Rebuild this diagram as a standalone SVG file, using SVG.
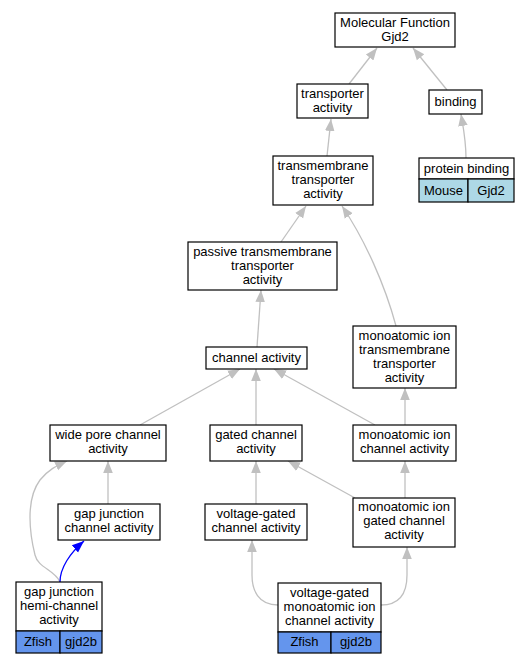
<svg xmlns="http://www.w3.org/2000/svg" width="531" height="664" viewBox="0 0 531 664">
<defs>
<style>
rect{fill:#fff;stroke:#000;stroke-width:1.2}
rect.lb{fill:#add8e6}
rect.cb{fill:#6495ed}
text{font-family:"Liberation Sans",Arial,sans-serif;font-size:13px;text-anchor:middle;fill:#000}
.e path{fill:none;stroke:#c0c0c0;stroke-width:1.3}
.e path.blue{stroke:#0000ff}
</style>
<marker id="ag" markerUnits="userSpaceOnUse" markerWidth="12" markerHeight="12" refX="10" refY="4" orient="auto" viewBox="0 0 10 8">
<path d="M0,0 L10,4 L0,8 Z" fill="#c0c0c0"/>
</marker>
<marker id="ab" markerUnits="userSpaceOnUse" markerWidth="12" markerHeight="12" refX="10" refY="4" orient="auto" viewBox="0 0 10 8">
<path d="M0,0 L10,4 L0,8 Z" fill="#0000ff"/>
</marker>
</defs>
<rect x="0" y="0" width="531" height="664" style="fill:#fff;stroke:none"/>
<g class="e" id="edges">
<path d="M349,84 L377,48" marker-end="url(#ag)"/>
<path d="M447,90 L413,48" marker-end="url(#ag)"/>
<path d="M466,158 C466,140 463,126 461,114" marker-end="url(#ag)"/>
<path d="M327,156 L331,119" marker-end="url(#ag)"/>
<path d="M281,242 L306,206" marker-end="url(#ag)"/>
<path d="M396,326 C385,285 365,240 342,206" marker-end="url(#ag)"/>
<path d="M257,347 L261,290" marker-end="url(#ag)"/>
<path d="M140,425 L240,369" marker-end="url(#ag)"/>
<path d="M256,425 L256,369" marker-end="url(#ag)"/>
<path d="M375,425 L274,369" marker-end="url(#ag)"/>
<path d="M405,425 L405,388" marker-end="url(#ag)"/>
<path d="M108,504 L108,461" marker-end="url(#ag)"/>
<path d="M60,582 C55,570 38,568 35,555 C30,535 25,500 40,480 C48,470 56,466 67,461" marker-end="url(#ag)"/>
<path class="blue" d="M60,582 C60,568 70,553 84,541" marker-end="url(#ab)"/>
<path d="M256,504 L256,461" marker-end="url(#ag)"/>
<path d="M355,498 L288,461" marker-end="url(#ag)"/>
<path d="M405,498 L405,461" marker-end="url(#ag)"/>
<path d="M278,605 C258,605 252,590 252,575 L252,540" marker-end="url(#ag)"/>
<path d="M381,605 C402,605 407,590 407,575 L407,547" marker-end="url(#ag)"/>
</g>
<g id="mf">
<rect x="335" y="13" width="120" height="34"/>
<text x="395" y="27">Molecular Function</text>
<text x="395" y="41">Gjd2</text>
</g>
<g id="transporter">
<rect x="297" y="84" width="71" height="34"/>
<text x="332.5" y="98">transporter</text>
<text x="332.5" y="112">activity</text>
</g>
<g id="binding">
<rect x="429" y="90" width="53" height="24"/>
<text x="455.5" y="106">binding</text>
</g>
<g id="proteinbinding">
<rect x="419" y="158" width="95" height="21"/>
<text x="466.5" y="173">protein binding</text>
<rect class="lb" x="419" y="179" width="49" height="23"/>
<text x="443.5" y="195">Mouse</text>
<rect class="lb" x="468" y="179" width="46" height="23"/>
<text x="491" y="195">Gjd2</text>
</g>
<g id="tta">
<rect x="273" y="156" width="100" height="49"/>
<text x="323" y="170">transmembrane</text>
<text x="323" y="184">transporter</text>
<text x="323" y="198">activity</text>
</g>
<g id="passive">
<rect x="188" y="242" width="149" height="48"/>
<text x="262.5" y="256">passive transmembrane</text>
<text x="262.5" y="270">transporter</text>
<text x="262.5" y="284">activity</text>
</g>
<g id="channel">
<rect x="206" y="347" width="101" height="22"/>
<text x="256.5" y="362">channel activity</text>
</g>
<g id="mitta">
<rect x="353" y="326" width="103" height="62"/>
<text x="404.5" y="340">monoatomic ion</text>
<text x="404.5" y="354">transmembrane</text>
<text x="404.5" y="368">transporter</text>
<text x="404.5" y="382">activity</text>
</g>
<g id="widepore">
<rect x="50" y="425" width="116" height="36"/>
<text x="108" y="439">wide pore channel</text>
<text x="108" y="453">activity</text>
</g>
<g id="gated">
<rect x="210" y="425" width="92" height="36"/>
<text x="256" y="439">gated channel</text>
<text x="256" y="453">activity</text>
</g>
<g id="mic">
<rect x="353" y="425" width="103" height="36"/>
<text x="404.5" y="439">monoatomic ion</text>
<text x="404.5" y="453">channel activity</text>
</g>
<g id="gapjunction">
<rect x="58" y="504" width="102" height="36"/>
<text x="109" y="518">gap junction</text>
<text x="109" y="532">channel activity</text>
</g>
<g id="vgc">
<rect x="205" y="504" width="102" height="36"/>
<text x="256" y="518">voltage-gated</text>
<text x="256" y="532">channel activity</text>
</g>
<g id="migc">
<rect x="353" y="498" width="102" height="49"/>
<text x="404" y="511">monoatomic ion</text>
<text x="404" y="525">gated channel</text>
<text x="404" y="539">activity</text>
</g>
<g id="hemi">
<rect x="16" y="582" width="86" height="49"/>
<text x="59" y="596">gap junction</text>
<text x="59" y="610">hemi-channel</text>
<text x="59" y="624">activity</text>
<rect class="cb" x="16" y="631" width="44" height="22"/>
<text x="38" y="646">Zfish</text>
<rect class="cb" x="60" y="631" width="42" height="22"/>
<text x="81" y="646">gjd2b</text>
</g>
<g id="vgmic">
<rect x="278" y="583" width="103" height="49"/>
<text x="329.5" y="597">voltage-gated</text>
<text x="329.5" y="611">monoatomic ion</text>
<text x="329.5" y="625">channel activity</text>
<rect class="cb" x="278" y="632" width="53" height="21"/>
<text x="304.5" y="646">Zfish</text>
<rect class="cb" x="331" y="632" width="50" height="21"/>
<text x="356" y="646">gjd2b</text>
</g>
</svg>
